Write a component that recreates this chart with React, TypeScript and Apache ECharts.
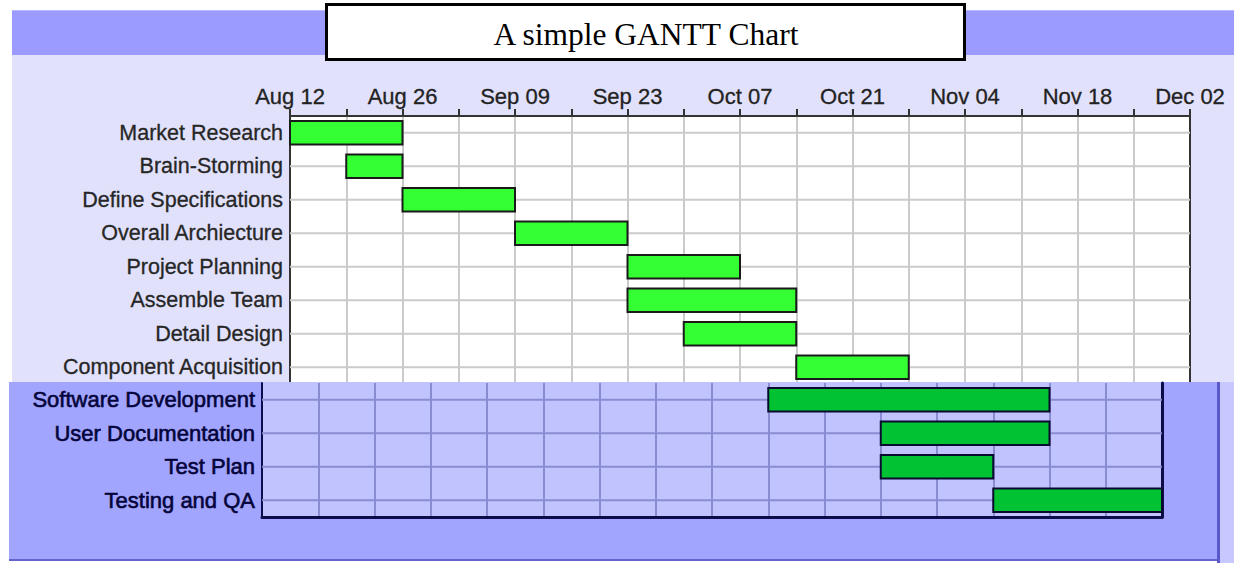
import React, { useEffect, useRef } from "react";
import * as echarts from "echarts";

// ---------- data ----------
const titleText = "A simple GANTT Chart";
const tickLabels = ["Aug 12", "Aug 26", "Sep 09", "Sep 23", "Oct 07", "Oct 21", "Nov 04", "Nov 18", "Dec 02"];
const axisStart = "2002-08-12";
const axisEnd = "2002-12-02";

const topTasks = [
  "Market Research",
  "Brain-Storming",
  "Define Specifications",
  "Overall Archiecture",
  "Project Planning",
  "Assemble Team",
  "Detail Design",
  "Component Acquisition",
];
const topStarts = ["2002-08-12", "2002-08-19", "2002-08-26", "2002-09-09", "2002-09-23", "2002-09-23", "2002-09-30", "2002-10-14"];
const topEnds = ["2002-08-26", "2002-08-26", "2002-09-09", "2002-09-23", "2002-10-07", "2002-10-14", "2002-10-14", "2002-10-28"];

const bottomTasks = ["Software Development", "User Documentation", "Test Plan", "Testing and QA"];
const bottomStarts = ["2002-10-14", "2002-10-28", "2002-10-28", "2002-11-11"];
const bottomEnds = ["2002-11-18", "2002-11-18", "2002-11-11", "2002-12-02"];

// ---------- helpers ----------
const DAY = 86400000;
const toDay = (s: string) => Math.round((Date.parse(s + "T00:00:00Z") - Date.parse(axisStart + "T00:00:00Z")) / DAY);
const maxDay = toDay(axisEnd);

const barSeries = (xi: number, yi: number, starts: string[], ends: string[], fill: string, stroke: string, z: number) => ({
  type: "custom",
  xAxisIndex: xi,
  yAxisIndex: yi,
  z,
  silent: true,
  encode: { x: [0, 1], y: 2 },
  data: starts.map((s, i) => [toDay(s), toDay(ends[i]), i]),
  renderItem: (params: any, api: any) => {
    const cat = api.value(2);
    const p0 = api.coord([api.value(0), cat]);
    const p1 = api.coord([api.value(1), cat]);
    const h = api.size([0, 1])[1] * 0.7;
    return {
      type: "rect",
      shape: { x: p0[0], y: p0[1] - h / 2, width: p1[0] - p0[0], height: h },
      style: { fill, stroke, lineWidth: 2 },
    };
  },
});

const rowLineSeries = (xi: number, yi: number, cats: string[], color: string, z: number) => ({
  type: "custom",
  xAxisIndex: xi,
  yAxisIndex: yi,
  z,
  silent: true,
  encode: { x: 0, y: 1 },
  data: cats.map((_, i) => [0, i]),
  renderItem: (params: any, api: any) => {
    const y = api.coord([0, api.value(1)])[1];
    const cs = params.coordSys;
    return {
      type: "line",
      shape: { x1: cs.x, y1: y, x2: cs.x + cs.width, y2: y },
      style: { stroke: color, lineWidth: 2 },
    };
  },
});

export default function App() {
  const ref = useRef<HTMLDivElement>(null);

  useEffect(() => {
    if (!ref.current) return;
    const chart = echarts.init(ref.current, undefined, { renderer: "svg" });
    const labelFont = "Liberation Sans, Arial, sans-serif";

    const option: any = {
      animation: false,
      graphic: [
        // top screenshot panel
        { type: "rect", z: 0, shape: { x: 12, y: 10, width: 1222, height: 45 }, style: { fill: "#9b9bfd" } },
        { type: "rect", z: 0, shape: { x: 12, y: 10, width: 1222, height: 1 }, style: { fill: "#b8b8ff" } },
        { type: "rect", z: 0, shape: { x: 12, y: 55, width: 1222, height: 327 }, style: { fill: "#e1e1fb" } },
        { type: "rect", z: 0, shape: { x: 290, y: 116, width: 900, height: 268 }, style: { fill: "#ffffff" } },
        // bottom screenshot panel
        { type: "rect", z: 5, shape: { x: 9, y: 382, width: 1209, height: 178 }, style: { fill: "#a2a5fe" } },
        { type: "rect", z: 5, shape: { x: 9, y: 559, width: 1211, height: 2 }, style: { fill: "#6464cc" } },
        { type: "rect", z: 5, shape: { x: 1217, y: 382, width: 3, height: 181 }, style: { fill: "#5a5acc" } },
        { type: "rect", z: 5, shape: { x: 1220, y: 382, width: 14, height: 181 }, style: { fill: "#c6c8ff" } },
        { type: "rect", z: 6, shape: { x: 262, y: 382, width: 900, height: 135 }, style: { fill: "#c1c3ff" } },
        // title box
        {
          type: "rect",
          z: 20,
          shape: { x: 326.5, y: 4.5, width: 638, height: 55 },
          style: { fill: "#ffffff", stroke: "#000000", lineWidth: 3 },
        },
        {
          type: "text",
          z: 21,
          x: 646,
          y: 34,
          style: {
            text: titleText,
            fill: "#000000",
            font: "31.5px 'Liberation Serif', 'Times New Roman', serif",
            textAlign: "center",
            textVerticalAlign: "middle",
          },
        },
      ],
      grid: [
        { left: 290, top: 116, width: 900, height: 268, show: false },
        { left: 262, top: 383, width: 900, height: 134, show: false },
      ],
      xAxis: [
        {
          gridIndex: 0,
          type: "value",
          position: "top",
          min: 0,
          max: maxDay,
          interval: 7,
          z: 2,
          axisLine: { show: true, lineStyle: { color: "#333333", width: 2 } },
          axisTick: { show: true, length: 7, lineStyle: { color: "#333333", width: 2 } },
          axisLabel: {
            margin: 9,
            fontSize: 22,
            color: "#222222",
            fontFamily: labelFont,
            textBorderColor: "#222222",
            textBorderWidth: 0.3,
            formatter: (v: number) => (v % 14 === 0 ? tickLabels[v / 14] : ""),
          },
          splitLine: { show: true, lineStyle: { color: "#cbcbcb", width: 2 } },
        },
        {
          gridIndex: 1,
          type: "value",
          position: "bottom",
          min: 0,
          max: maxDay,
          interval: 7,
          z: 7,
          axisLine: { show: true, lineStyle: { color: "#0c0c4a", width: 3 } },
          axisTick: { show: false },
          axisLabel: { show: false },
          splitLine: { show: true, lineStyle: { color: "#8a8cd2", width: 2 } },
        },
      ],
      yAxis: [
        {
          gridIndex: 0,
          type: "category",
          data: topTasks,
          inverse: true,
          z: 2,
          axisLine: { show: true, lineStyle: { color: "#333333", width: 2 } },
          axisTick: { show: false },
          splitLine: { show: false },
          axisLabel: {
            margin: 7,
            fontSize: 21.5,
            color: "#262626",
            fontFamily: labelFont,
            textBorderColor: "#262626",
            textBorderWidth: 0.3,
          },
        },
        {
          gridIndex: 0,
          type: "category",
          data: topTasks,
          inverse: true,
          position: "right",
          z: 2,
          axisLine: { show: true, lineStyle: { color: "#333333", width: 2 } },
          axisTick: { show: false },
          splitLine: { show: false },
          axisLabel: { show: false },
        },
        {
          gridIndex: 1,
          type: "category",
          data: bottomTasks,
          inverse: true,
          z: 7,
          axisLine: { show: true, lineStyle: { color: "#0c0c4a", width: 2 } },
          axisTick: { show: false },
          splitLine: { show: false },
          axisLabel: {
            margin: 7,
            fontSize: 22,
            color: "#04043a",
            fontFamily: labelFont,
            textBorderColor: "#04043a",
            textBorderWidth: 0.6,
          },
        },
        {
          gridIndex: 1,
          type: "category",
          data: bottomTasks,
          inverse: true,
          position: "right",
          z: 7,
          axisLine: { show: true, lineStyle: { color: "#0c0c4a", width: 3 } },
          axisTick: { show: false },
          splitLine: { show: false },
          axisLabel: { show: false },
        },
      ],
      series: [
        rowLineSeries(0, 0, topTasks, "#cbcbcb", 3),
        barSeries(0, 0, topStarts, topEnds, "#33ff33", "#1a1a1a", 4),
        rowLineSeries(1, 2, bottomTasks, "#8a8cd2", 8),
        barSeries(1, 2, bottomStarts, bottomEnds, "#00c233", "#0a0a30", 9),
      ],
    };

    chart.setOption(option);
    return () => chart.dispose();
  }, []);

  return (
    <div
      ref={ref}
      style={{ position: "fixed", left: 0, top: 0, width: 1234, height: 563, background: "#ffffff" }}
    />
  );
}
